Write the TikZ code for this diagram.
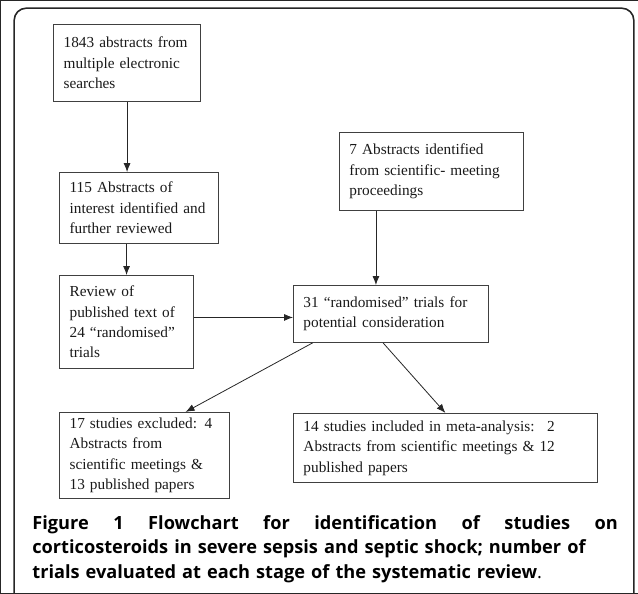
\documentclass[tikz,border=0pt]{standalone}
\usepackage{fontspec}
\setmainfont{Liberation Serif}
\newfontfamily\capfont{Open Sans}
\usetikzlibrary{arrows.meta,calc}

\tikzset{
  basic/.style  = {draw=black!75, line width=0.9pt, rectangle, anchor=north west, align=left,
                   inner xsep=10pt, inner ysep=3pt, text=black!90,
                   font=\fontsize{15.3}{20.5}\selectfont},
  stage/.style 2 args = {basic, text width=#1, minimum height=#2},
  caption/.style = {anchor=north west, inner sep=0pt, text width=586pt, align=left,
                    font=\capfont\bfseries\fontsize{18.2}{25}\selectfont}
}

\begin{document}
\begin{tikzpicture}[
  x=1pt, y=-1pt,
  every path/.style={draw=black!85},
  >={Latex[length=9pt,width=7pt]}]

\useasboundingbox (0,0) rectangle (638,593);

% outer frame, open at the bottom
\draw[line width=1.6pt, rounded corners=12pt] (14,593) -- (14,8) -- (634,8) -- (634,593);

% left column
\node[stage={127pt}{77pt}] (abs) at (53,24) {1843 abstracts from\\ multiple electronic\\ searches};
\node[stage={139pt}{71pt}] (int) at (59,172) {115 Abstracts of\\ interest identified and\\ further reviewed};
\node[stage={114pt}{93pt}] (rev) at (59,275) {Review of\\ published text of\\ 24 “randomised”\\ trials};

% right column
\node[stage={164pt}{78pt}] (meet) at (339,132) {7 Abstracts identified\\ from scientific- meeting\\ proceedings};
\node[stage={175pt}{57pt}] (rand) at (293,285) {31 “randomised” trials for\\ potential consideration};

% outcome
\node[stage={150pt}{86pt}] (excl) at (59,412) {17 studies excluded: 4\\ Abstracts from\\ scientific meetings \&\\ 13 published papers};
\node[stage={284pt}{69pt}] (incl) at (293,413) {14 studies included in meta-analysis:~ 2\\ Abstracts from scientific meetings \& 12\\ published papers};

% caption, first line spread to full width
\node[caption] (cap) at (32,515) {\hbox to 586pt{Figure\hfill 1\hfill Flowchart\hfill for\hfill
  identification\hfill of\hfill studies\hfill on}\\
  corticosteroids in severe sepsis and septic shock; number of\\
  trials evaluated at each stage of the systematic review{\mdseries .}};

% connectors
\draw[->, line width=0.8pt] (abs.south) -- (abs.south |- int.north);
\draw[->, line width=0.8pt] (rev.north |- int.south) -- (rev.north);
\draw[->, line width=0.8pt] ([yshift=4.5pt]rev.east) -- ([yshift=4.5pt]rev.east -| rand.west);
\draw[->, line width=0.8pt] ($(meet.south west)!0.2!(meet.south east)$) coordinate (m1)
  -- (m1 |- rand.north);
\draw[->, line width=0.8pt] ($(rand.south west)!0.1!(rand.south east)$)
  -- ($(excl.north west)!0.74!(excl.north east)$);
\draw[->, line width=0.8pt] ($(rand.south west)!0.46!(rand.south east)$) -- (incl.north);
\end{tikzpicture}
\end{document}
